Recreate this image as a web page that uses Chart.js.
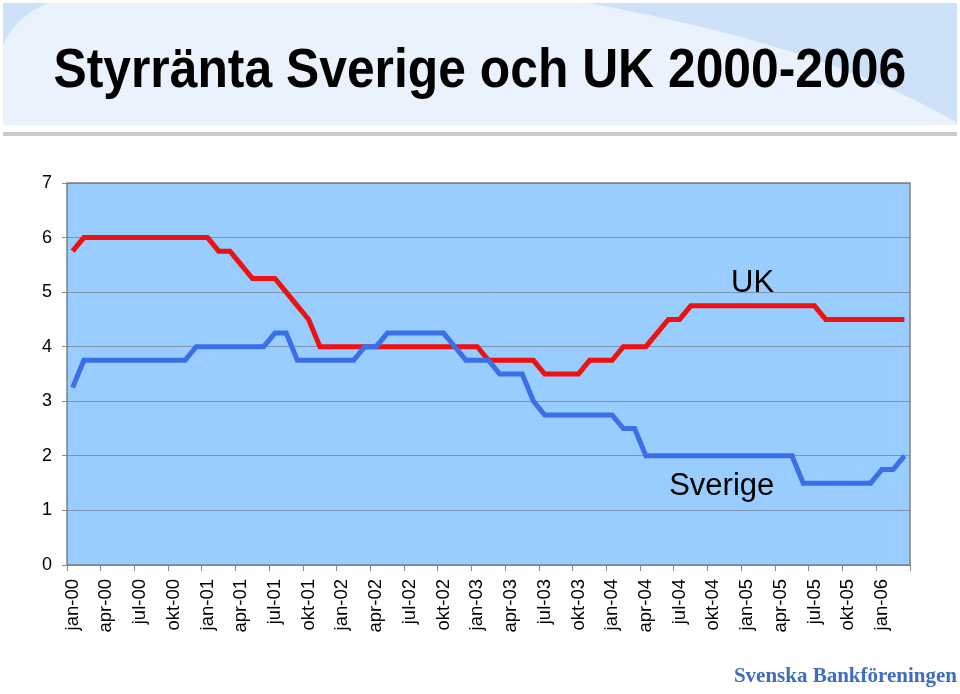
<!DOCTYPE html>
<html>
<head>
<meta charset="utf-8">
<script src="https://cdn.jsdelivr.net/npm/chart.js@4.4.0/dist/chart.umd.min.js"></script>
<style>
  body { margin: 0; width: 960px; height: 694px; position: relative; overflow: hidden; background: #fff; }
  #banner { position: absolute; left: 3px; top: 3px; }
  #rule { position: absolute; left: 3px; top: 132px; width: 954px; height: 4px; background: #cbcbcb; }
  #title { position: absolute; left: 0; top: 41px; width: 960px; text-align: center; white-space: nowrap;
           font: bold 55px/55px "Liberation Sans", Arial, sans-serif; color: #000; }
  #title span { display: inline-block; transform-origin: center; }
  #footer { position: absolute; right: 3px; top: 663px; font: bold 21px "Liberation Serif", "DejaVu Serif", serif; color: #3d6cc2; }
  #chart { position: absolute; left: 0; top: 0; }
</style>
</head>
<body>
<svg id="banner" width="954" height="122">
  <rect width="954" height="122" fill="#cde1f9"/>
  <path d="M45,0 L585,0 Q830,45 954,120 L954,122 L0,122 L0,42 Q14,12 45,0 Z" fill="#e9f2fd"/>
</svg>
<div id="rule"></div>
<div id="title"><span id="titleText">Styrränta Sverige och UK 2000-2006</span></div>
<canvas id="chart" width="960" height="694"></canvas>
<div id="footer">Svenska Bankföreningen</div>
<script>
// månadsvärden jan-00 .. mar-06
const categories = [
  "jan-00","feb-00","mar-00","apr-00","maj-00","jun-00","jul-00","aug-00","sep-00","okt-00","nov-00","dec-00",
  "jan-01","feb-01","mar-01","apr-01","maj-01","jun-01","jul-01","aug-01","sep-01","okt-01","nov-01","dec-01",
  "jan-02","feb-02","mar-02","apr-02","maj-02","jun-02","jul-02","aug-02","sep-02","okt-02","nov-02","dec-02",
  "jan-03","feb-03","mar-03","apr-03","maj-03","jun-03","jul-03","aug-03","sep-03","okt-03","nov-03","dec-03",
  "jan-04","feb-04","mar-04","apr-04","maj-04","jun-04","jul-04","aug-04","sep-04","okt-04","nov-04","dec-04",
  "jan-05","feb-05","mar-05","apr-05","maj-05","jun-05","jul-05","aug-05","sep-05","okt-05","nov-05","dec-05",
  "jan-06","feb-06","mar-06"
];

const sverige = [
  3.25, 3.75, 3.75, 3.75, 3.75, 3.75, 3.75, 3.75, 3.75, 3.75, 3.75, 4.0,
  4.0, 4.0, 4.0, 4.0, 4.0, 4.0, 4.25, 4.25, 3.75, 3.75, 3.75, 3.75,
  3.75, 3.75, 4.0, 4.0, 4.25, 4.25, 4.25, 4.25, 4.25, 4.25, 4.0, 3.75,
  3.75, 3.75, 3.5, 3.5, 3.5, 3.0, 2.75, 2.75, 2.75, 2.75, 2.75, 2.75,
  2.75, 2.5, 2.5, 2.0, 2.0, 2.0, 2.0, 2.0, 2.0, 2.0, 2.0, 2.0,
  2.0, 2.0, 2.0, 2.0, 2.0, 1.5, 1.5, 1.5, 1.5, 1.5, 1.5, 1.5,
  1.75, 1.75, 2.0
];

const uk = [
  5.75, 6.0, 6.0, 6.0, 6.0, 6.0, 6.0, 6.0, 6.0, 6.0, 6.0, 6.0,
  6.0, 5.75, 5.75, 5.5, 5.25, 5.25, 5.25, 5.0, 4.75, 4.5, 4.0, 4.0,
  4.0, 4.0, 4.0, 4.0, 4.0, 4.0, 4.0, 4.0, 4.0, 4.0, 4.0, 4.0,
  4.0, 3.75, 3.75, 3.75, 3.75, 3.75, 3.5, 3.5, 3.5, 3.5, 3.75, 3.75,
  3.75, 4.0, 4.0, 4.0, 4.25, 4.5, 4.5, 4.75, 4.75, 4.75, 4.75, 4.75,
  4.75, 4.75, 4.75, 4.75, 4.75, 4.75, 4.75, 4.5, 4.5, 4.5, 4.5, 4.5,
  4.5, 4.5, 4.5
];

const yTicks = [0, 1, 2, 3, 4, 5, 6, 7];

// titeln är smalare i originalet, pressa ihop den
const t = document.getElementById("titleText");
t.style.transform = "scaleX(" + (853 / t.offsetWidth) + ")";

const plotArea = { left: 67, top: 183, right: 910, bottom: 565 };

const plotBg = {
  id: "plotBg",
  beforeDraw(chart) {
    const { ctx, chartArea: a } = chart;
    ctx.save();
    ctx.fillStyle = "#99ccff";
    ctx.fillRect(a.left, a.top, a.right - a.left, a.bottom - a.top);
    ctx.restore();
  },
  afterDraw(chart) {
    const { ctx, chartArea: a } = chart;
    ctx.save();
    ctx.strokeStyle = "#7f7f7f";
    ctx.lineWidth = 1.5;
    ctx.strokeRect(a.left, a.top, a.right - a.left, a.bottom - a.top);
    ctx.restore();
  }
};

const seriesLabels = {
  id: "seriesLabels",
  afterDatasetsDraw(chart) {
    const { ctx, scales: { x, y } } = chart;
    ctx.save();
    ctx.fillStyle = "#000";
    ctx.font = '31px "Liberation Sans", Arial, sans-serif';
    ctx.textAlign = "center";
    ctx.textBaseline = "alphabetic";
    ctx.fillText("UK", x.getPixelForValue(60.5), y.getPixelForValue(5.0));
    ctx.fillText("Sverige", x.getPixelForValue(57.75), y.getPixelForValue(1.28));
    ctx.restore();
  }
};

new Chart(document.getElementById("chart"), {
  type: "line",
  data: {
    labels: categories,
    datasets: [
      { label: "Sverige", data: sverige, borderColor: "#3a6fe8", borderWidth: 5, pointRadius: 0, tension: 0, fill: false },
      { label: "UK", data: uk, borderColor: "#ee1111", borderWidth: 5, pointRadius: 0, tension: 0, fill: false }
    ]
  },
  options: {
    responsive: false,
    animation: false,
    layout: { padding: { left: 10, top: plotArea.top, right: 960 - plotArea.right, bottom: 0 } },
    plugins: { legend: { display: false }, tooltip: { enabled: false }, title: { display: false } },
    scales: {
      x: {
        offset: true,
        afterFit(scale) { scale.height = 694 - plotArea.bottom; },
        grid: {
          offset: true,
          drawOnChartArea: false,
          tickLength: 6,
          color: (c) => (c.type === "scale" || c.index % 3 === 0) ? "#8a8a8a" : "rgba(0,0,0,0)"
        },
        border: { display: false },
        ticks: {
          autoSkip: false,
          minRotation: 90,
          maxRotation: 90,
          padding: 8,
          color: "#000",
          font: { family: '"Liberation Sans", Arial, sans-serif', size: 18.5 },
          callback: (v, i) => i % 3 === 0 ? categories[i] : ""
        }
      },
      y: {
        min: yTicks[0],
        max: yTicks[yTicks.length - 1],
        afterFit(scale) { scale.width = plotArea.left - 10; },
        afterBuildTicks(scale) { scale.ticks = yTicks.map(v => ({ value: v })); },
        grid: { color: "#7d93ab", lineWidth: 1, tickLength: 5, tickColor: "#8a8a8a" },
        border: { display: false },
        ticks: {
          padding: 10,
          color: "#000",
          font: { family: '"Liberation Sans", Arial, sans-serif', size: 18 }
        }
      }
    }
  },
  plugins: [plotBg, seriesLabels]
});
</script>
</body>
</html>
